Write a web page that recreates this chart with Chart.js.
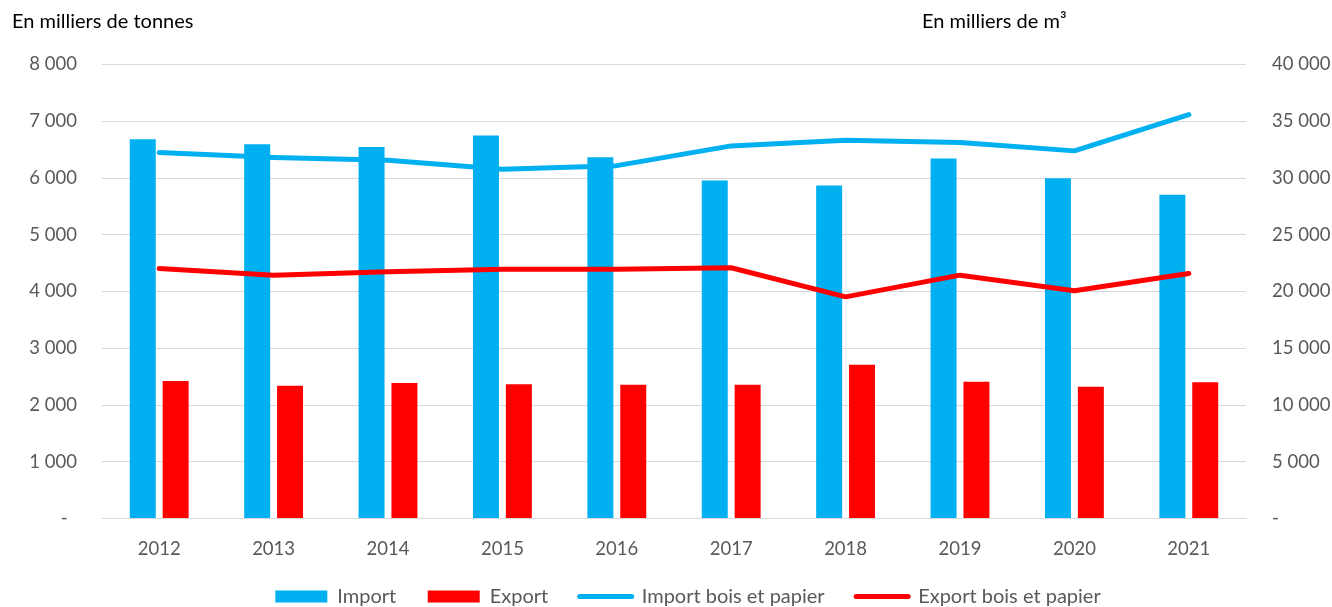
<!DOCTYPE html>
<html lang="fr">
<head>
<meta charset="utf-8">
<script src="https://cdn.jsdelivr.net/npm/chart.js@4/dist/chart.umd.min.js"></script>
<style>
  html, body { margin: 0; padding: 0; background: #fff; }
  #wrap { width: 1332px; height: 607px; position: relative; }
</style>
</head>
<body>
<div id="wrap"><canvas id="chart"></canvas></div>
<script>
// Years on the x axis
const years = ['2012', '2013', '2014', '2015', '2016', '2017', '2018', '2019', '2020', '2021'];

// Bars, left axis (milliers de tonnes)
const importTonnes = [6684, 6596, 6548, 6749, 6367, 5956, 5868, 6344, 5997, 5703];
const exportTonnes = [2422, 2339, 2386, 2364, 2357, 2357, 2709, 2409, 2321, 2399];

// Lines, right axis (milliers de m3)
const importBoisPapier = [32250, 31810, 31570, 30780, 31090, 32830, 33330, 33130, 32390, 35590];
const exportBoisPapier = [22030, 21440, 21730, 21950, 21950, 22090, 19530, 21440, 20060, 21590];

const seriesNames = ['Import', 'Export', 'Import bois et papier', 'Export bois et papier'];
const leftTitle = 'En milliers de tonnes';
const rightTitle = 'En milliers de m³';

const BLUE = '#00B0F0';
const RED = '#FF0000';
const TICK = '#595959';
const GRID = '#D9D9D9';
const FONT = 'Lato';

// "8 000" style numbers, zero shown as a dash
const fmt = v => v === 0 ? '-' : String(v).replace(/\B(?=(\d{3})+(?!\d))/g, ' ');

// Axis titles above the plot
const titlesPlugin = {
  id: 'axisTitles',
  afterDraw(chart) {
    const ctx = chart.ctx;
    ctx.save();
    ctx.font = `20px ${FONT}`;
    ctx.fillStyle = '#000';
    ctx.textBaseline = 'middle';
    ctx.textAlign = 'left';
    ctx.fillText(leftTitle, 12, 22);
    ctx.fillText(rightTitle, 922, 22);
    ctx.restore();
  }
};

// Legend sits a bit right of the canvas centre in the original
const legendShift = {
  id: 'legendShift',
  afterLayout(chart) {
    const lg = chart.legend;
    lg.left += 22;
    lg.right += 22;
  }
};

const ctx = document.getElementById('chart').getContext('2d');
new Chart(ctx, {
  data: {
    labels: years,
    datasets: [
      { type: 'bar', label: seriesNames[0], data: importTonnes, backgroundColor: BLUE, yAxisID: 'y', order: 1,
        categoryPercentage: 0.575, barPercentage: 0.79 },
      { type: 'bar', label: seriesNames[1], data: exportTonnes, backgroundColor: RED, yAxisID: 'y', order: 1,
        categoryPercentage: 0.575, barPercentage: 0.79 },
      { type: 'line', label: seriesNames[2], data: importBoisPapier, borderColor: BLUE, backgroundColor: BLUE,
        borderWidth: 5, borderCapStyle: 'round', borderJoinStyle: 'round', pointRadius: 0, tension: 0,
        yAxisID: 'y1', order: 0 },
      { type: 'line', label: seriesNames[3], data: exportBoisPapier, borderColor: RED, backgroundColor: RED,
        borderWidth: 5, borderCapStyle: 'round', borderJoinStyle: 'round', pointRadius: 0, tension: 0,
        yAxisID: 'y1', order: 0 }
    ]
  },
  options: {
    responsive: true,
    maintainAspectRatio: false,
    animation: false,
    layout: { padding: { top: 64.5, right: 0, bottom: 0, left: 0 } },
    plugins: {
      tooltip: { enabled: false },
      legend: {
        position: 'bottom',
        maxHeight: 52,
        labels: {
          font: { family: FONT, size: 20 },
          color: TICK,
          usePointStyle: true,
          pointStyleWidth: 52,
          boxHeight: 12,
          padding: 31.5,
          sort: (a, b) => a.datasetIndex - b.datasetIndex,
          generateLabels(chart) {
            const items = Chart.defaults.plugins.legend.labels.generateLabels(chart);
            items.forEach(it => {
              const ds = chart.data.datasets[it.datasetIndex];
              if (ds.type === 'line') {
                it.pointStyle = 'line';
                it.lineWidth = 5;
                it.strokeStyle = ds.borderColor;
                it.lineCap = 'round';
              } else {
                it.pointStyle = 'rect';
                it.lineWidth = 0;
                it.fillStyle = ds.backgroundColor;
              }
            });
            return items;
          }
        }
      }
    },
    scales: {
      x: {
        afterFit: s => { s.height = 36.5; },
        grid: { display: false },
        border: { color: GRID, width: 1 },
        ticks: { color: TICK, font: { family: FONT, size: 18.5 }, padding: 11 }
      },
      y: {
        position: 'left',
        min: 0, max: 8000,
        afterFit: s => { s.width = 102; },
        grid: { color: GRID, lineWidth: 1, drawTicks: false },
        border: { display: false },
        ticks: { stepSize: 1000, color: TICK, font: { family: FONT, size: 18.5 }, padding: 25,
          callback: v => v === 0 ? '-  ' : fmt(v) }
      },
      y1: {
        position: 'right',
        min: 0, max: 40000,
        afterFit: s => { s.width = 86; },
        grid: { display: false, drawTicks: false },
        border: { display: false },
        ticks: { stepSize: 5000, color: TICK, font: { family: FONT, size: 18.5 }, padding: 26,
          callback: v => fmt(v) }
      }
    }
  },
  plugins: [titlesPlugin, legendShift]
});
</script>
</body>
</html>
